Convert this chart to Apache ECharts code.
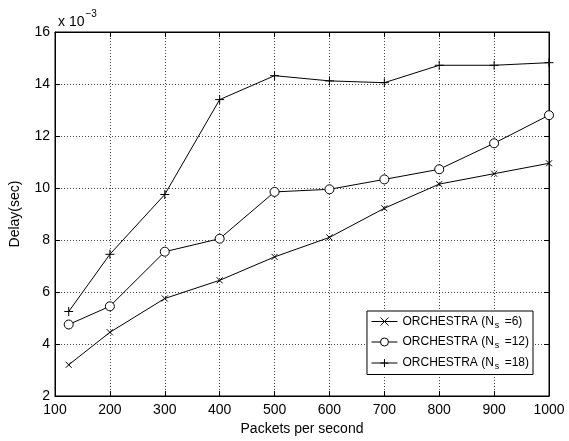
<!DOCTYPE html>
<html>
<head>
<meta charset="utf-8">
<script src="https://cdn.jsdelivr.net/npm/echarts@6/dist/echarts.min.js"></script>
<style>
  html, body { margin: 0; padding: 0; background: #fff; }
  #chart { width: 569px; height: 441px; }
</style>
</head>
<body>
<div id="chart"></div>
<script>
// Offered load (packets per second)
const packetRates = [125, 200, 300, 400, 500, 600, 700, 800, 900, 1000];
// Mean delay in units of 1e-3 s
const delayNs6  = [3.2, 4.45, 5.75, 6.45, 7.35, 8.1, 9.22, 10.15, 10.55, 10.95];
const delayNs12 = [4.75, 5.45, 7.55, 8.05, 9.85, 9.95, 10.33, 10.72, 11.72, 12.8];
const delayNs18 = [5.25, 7.45, 9.75, 13.4, 14.32, 14.12, 14.05, 14.72, 14.72, 14.82];
const seriesNames = ['ORCHESTRA (N_s =6)', 'ORCHESTRA (N_s =12)', 'ORCHESTRA (N_s =18)'];
const xTicks = { min: 100, max: 1000, step: 100 };
const yTicks = { min: 2, max: 16, step: 2 };

const FONT = 'Liberation Sans, Arial, sans-serif';
const crossSym = 'path://M0,0L10,10M10,0L0,10';
const plusSym = 'path://M5,0L5,10M0,5L10,5';

function pairs(ys) { return packetRates.map((x, i) => [x, ys[i]]); }

function legendLabel(name) {
  const m = name.match(/^(.*\(N)_s( =\d+\))$/);
  return '{t|' + m[1] + '}{s|s}{t|' + m[2] + '}';
}

const lineBase = {
  type: 'line',
  color: '#000',
  lineStyle: { color: '#000', width: 1 },
  animation: false,
  z: 5
};

const chart = echarts.init(document.getElementById('chart'));
chart.setOption({
  animation: false,
  backgroundColor: '#fff',
  title: {
    text: '{a|x 10}{b|\u22123}',
    left: 53,
    top: 4,
    textStyle: {
      fontWeight: 'normal',
      rich: {
        a: { fontFamily: FONT, fontSize: 14, fontWeight: 'normal', color: '#000', verticalAlign: 'bottom', lineHeight: 18 },
        b: { fontFamily: FONT, fontSize: 10, fontWeight: 'normal', color: '#000', verticalAlign: 'top', padding: [0, 0, 10, 1] }
      }
    }
  },
  grid: { left: 53, right: 20, top: 32, bottom: 45, show: true, borderColor: '#000', borderWidth: 1 },
  legend: {
    right: 36,
    top: 311,
    orient: 'vertical',
    backgroundColor: '#fff',
    borderColor: '#000',
    borderWidth: 1,
    borderRadius: 0,
    padding: [4, 4, 3, 4],
    itemGap: 6,
    itemWidth: 26,
    itemHeight: 10,
    data: seriesNames,
    formatter: legendLabel,
    lineStyle: { width: 1 },
    itemStyle: { borderWidth: 1 },
    textStyle: {
      rich: {
        t: { fontFamily: FONT, fontSize: 12, color: '#000', lineHeight: 16 },
        s: { fontFamily: FONT, fontSize: 9, color: '#000', padding: [8, 2, 0, 1] }
      }
    }
  },
  xAxis: [{
    type: 'value',
    min: xTicks.min, max: xTicks.max, interval: xTicks.step,
    name: 'Packets per second',
    nameLocation: 'middle',
    nameGap: 25,
    nameTextStyle: { fontFamily: FONT, fontSize: 14, color: '#000' },
    axisLine: { show: true, lineStyle: { color: '#000', width: 1 } },
    axisTick: { show: true, inside: true, length: 5, lineStyle: { color: '#000' } },
    axisLabel: { fontFamily: FONT, fontSize: 14, color: '#000', margin: 7, formatter: v => String(v) },
    splitLine: { show: true, lineStyle: { color: '#444', type: [1, 2], width: 1 } }
  }, {
    type: 'value', position: 'top',
    min: xTicks.min, max: xTicks.max, interval: xTicks.step,
    axisLine: { show: true, lineStyle: { color: '#000' } },
    axisTick: { show: true, inside: true, length: 5, lineStyle: { color: '#000' } },
    axisLabel: { show: false },
    splitLine: { show: false }
  }],
  yAxis: [{
    type: 'value',
    min: yTicks.min, max: yTicks.max, interval: yTicks.step,
    name: 'Delay(sec)',
    nameLocation: 'middle',
    nameGap: 33,
    nameTextStyle: { fontFamily: FONT, fontSize: 14, color: '#000' },
    axisLine: { show: true, lineStyle: { color: '#000', width: 1 } },
    axisTick: { show: true, inside: true, length: 5, lineStyle: { color: '#000' } },
    axisLabel: { fontFamily: FONT, fontSize: 14, color: '#000', margin: 5 },
    splitLine: { show: true, lineStyle: { color: '#444', type: [1, 2], width: 1 } }
  }, {
    type: 'value', position: 'right',
    min: yTicks.min, max: yTicks.max, interval: yTicks.step,
    axisLine: { show: true, lineStyle: { color: '#000' } },
    axisTick: { show: true, inside: true, length: 5, lineStyle: { color: '#000' } },
    axisLabel: { show: false },
    splitLine: { show: false }
  }],
  series: [
    Object.assign({}, lineBase, {
      name: seriesNames[0],
      data: pairs(delayNs6),
      symbol: crossSym, symbolSize: 6,
      itemStyle: { color: 'none', borderColor: '#000', borderWidth: 1 }
    }),
    Object.assign({}, lineBase, {
      name: seriesNames[1],
      data: pairs(delayNs12),
      symbol: 'circle', symbolSize: 9,
      itemStyle: { color: '#fff', borderColor: '#000', borderWidth: 1 }
    }),
    Object.assign({}, lineBase, {
      name: seriesNames[2],
      data: pairs(delayNs18),
      symbol: plusSym, symbolSize: 9,
      itemStyle: { color: 'none', borderColor: '#000', borderWidth: 1 }
    })
  ]
});
</script>
</body>
</html>
